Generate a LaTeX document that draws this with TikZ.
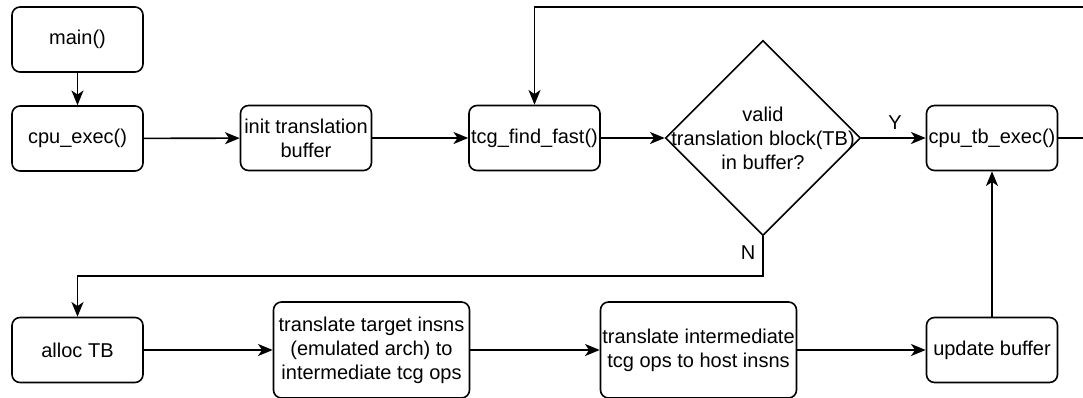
\documentclass[tikz,border=0pt]{standalone}
\usepackage{fontspec}
\setmainfont{Liberation Sans}
\usetikzlibrary{arrows.meta,shapes.geometric}

\begin{document}
\begin{tikzpicture}[x=0.75pt,y=-0.75pt,
  txt/.style={font=\fontsize{15}{18}\selectfont, align=center},
  box/.style={txt, draw, rounded corners=6pt, line width=1.2pt,
    minimum width=131*0.75pt, minimum height=65*0.75pt, inner sep=1pt},
  widebox/.style={box, minimum width=196*0.75pt, minimum height=96*0.75pt},
  decision/.style={draw, diamond, line width=1.2pt,
    minimum width=195*0.75pt, minimum height=195*0.75pt, inner sep=0pt},
  lbl/.style={txt, inner sep=0pt},
  flow/.style={draw, line width=1.2pt, -{Stealth[length=11pt,width=9pt,inset=3pt]}}
]
\fill[white] (0,0) rectangle (1083,397);
\useasboundingbox (0,0) rectangle (1083,397);

% top row
\node[box] (main)     at (77.5,39.5)  {main()};
\node[box] (cpuexec)  at (77.5,138.5) {cpu\_exec()};
\node[box] (inittb)   at (306,138)    {init translation\\buffer};
\node[box] (findfast) at (534.5,138)  {tcg\_find\_fast()};
\node[decision] (valid) at (763,138)  {};
\node[lbl] (validtext) at (valid)     {valid\\translation block(TB)\\in buffer?};
\node[box] (tbexec)   at (992,138)    {cpu\_tb\_exec()};

% bottom row
\node[box] (alloc)      at (77.5,350)  {alloc TB};
\node[widebox] (gentcg)  at (371.5,350) {translate target insns\\(emulated arch) to\\intermediate tcg ops};
\node[widebox] (genhost) at (698.5,350) {translate intermediate\\tcg ops to host insns};
\node[box] (update)     at (992,350)   {update buffer};

% branch labels
\node[lbl] (ylabel) at (895,123) {Y};
\node[lbl] (nlabel) at (748,253) {N};

% bend points
\coordinate (loopcorner) at (1090,7);
\coordinate (nbend) at (400,276);

% connectors
\draw[flow] (main) -- (cpuexec);
\draw[flow] (cpuexec) -- (inittb);
\draw[flow] (inittb) -- (findfast);
\draw[flow] (findfast) -- (valid.west);
\draw[flow] (valid.east) -- (tbexec);
\draw[flow] (tbexec.east) -| (loopcorner) -| (findfast.north);
\draw[flow] (valid.south) |- (nbend) -| (alloc.north);
\draw[flow] (alloc) -- (gentcg);
\draw[flow] (gentcg) -- (genhost);
\draw[flow] (genhost) -- (update);
\draw[flow] (update) -- (tbexec);
\end{tikzpicture}
\end{document}
